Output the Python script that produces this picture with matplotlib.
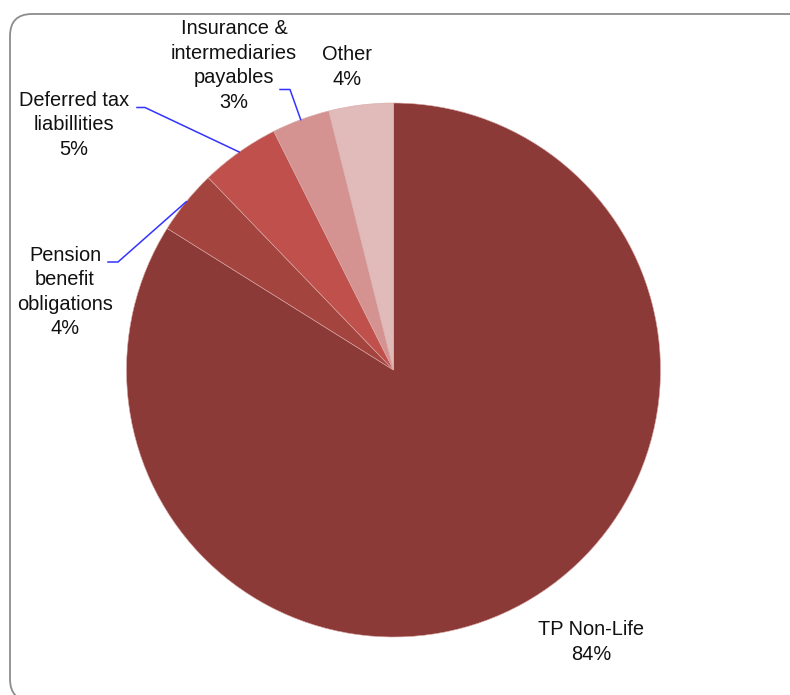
#Pie chart of liabilities structure
import matplotlib.pyplot as plt
import numpy as np
from matplotlib.patches import FancyBboxPatch

#data
names = ["TP Non-Life", "Pension\nbenefit\nobligations", "Deferred tax\nliabillities",
         "Insurance &\nintermediaries\npayables", "Other"]
values = [83.9, 3.9, 4.8, 3.5, 3.9]
pct_labels = ["84%", "4%", "5%", "3%", "4%"]
colors = ["#8C3A37", "#A4443F", "#BF504C", "#D49391", "#E1BBBA"]

#settings (pixel layout, image y from top)
W, H = 790, 695
CX, CY, R = 393.5, 370, 267
label_pos = [(591, 642), (65, 292), (74, 125), (234, 65.5), (347, 67)]
# text-side start of leader and elbow, None = no leader
leader_pts = [None, [(108, 262), (118, 262)], [(137, 107.5), (145, 107.5)],
              [(280, 89.5), (290, 89.5)], None]

plt.rcParams["font.family"] = ["Liberation Sans", "DejaVu Sans"]

fig = plt.figure(figsize=(W / 100, H / 100), dpi=100)
ax = fig.add_axes([0, 0, 1, 1])

wedges, _ = ax.pie(values, colors=colors, startangle=90, counterclock=False,
                   center=(CX, H - CY), radius=R,
                   wedgeprops=dict(edgecolor="#d9a9a7", linewidth=0.4))
ax.set_xlim(0, W)
ax.set_ylim(0, H)
ax.set_aspect("equal")
ax.axis("off")

#labels and leader lines
for i, w in enumerate(wedges):
    x, y = label_pos[i]
    ax.text(x, H - y, names[i] + "\n" + pct_labels[i], ha="center", va="center",
            fontsize=14.4, color="#111111", linespacing=1.36)
    if leader_pts[i] is not None:
        mid = np.deg2rad((w.theta1 + w.theta2) / 2)
        ex = CX + R * np.cos(mid)
        ey = (H - CY) + R * np.sin(mid)
        xs = [p[0] for p in leader_pts[i]] + [ex]
        ys = [H - p[1] for p in leader_pts[i]] + [ey]
        ax.plot(xs, ys, color="#3333ff", linewidth=1.1)

#rounded frame (right edge lies just outside the picture)
frame = FancyBboxPatch((10, -6), 806, H - 14 + 6, boxstyle="round,pad=0,rounding_size=22",
                       facecolor="none", edgecolor="#8c8c8c", linewidth=1.3, clip_on=False)
ax.add_patch(frame)
ax.set_xlim(0, W)
ax.set_ylim(0, H)

plt.savefig("out.png", dpi=100)
